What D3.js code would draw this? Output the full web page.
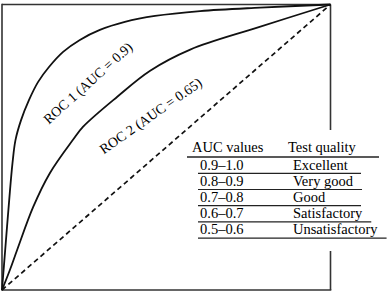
<!DOCTYPE html>
<html><head><meta charset="utf-8">
<script src="https://cdn.jsdelivr.net/npm/d3@7"></script>
<style>html,body{margin:0;padding:0;background:#fff;}svg{display:block;}</style>
</head><body>
<svg id="c" width="390" height="293"></svg>
<script>
const roc1FPR = [0,0.0097,0.0219,0.032,0.041,0.058,0.082,0.110,0.143,0.186,0.237,0.298,0.374,0.466,0.603,0.785,1];
const roc1TPR = [0,0.140,0.315,0.445,0.525,0.595,0.665,0.729,0.781,0.834,0.876,0.911,0.939,0.960,0.977,0.989,1];
const roc2FPR = [0,0.024,0.046,0.095,0.146,0.216,0.247,0.351,0.451,0.573,0.777,1];
const roc2TPR = [0,0.07,0.14,0.291,0.41,0.526,0.572,0.677,0.768,0.842,0.919,1];
const diagFPR = [0,1];
const diagTPR = [0,1];
const curveLabels = ["ROC 1 (AUC = 0.9)","ROC 2 (AUC = 0.65)"];
const tableHeader = ["AUC values","Test quality"];
const aucRanges = ["0.9\u20131.0","0.8\u20130.9","0.7\u20130.8","0.6\u20130.7","0.5\u20130.6"];
const qualities = ["Excellent","Very good","Good","Satisfactory","Unsatisfactory"];

const svg = d3.select("#c");
const x = d3.scaleLinear().domain([0,1]).range([2,330.5]);
const y = d3.scaleLinear().domain([0,1]).range([290,4.5]);
const font = "'Liberation Serif','Times New Roman',serif";

// frame
const fr = svg.append("g").attr("stroke","#333").attr("stroke-width",1.6).attr("fill","none");
fr.append("line").attr("x1",x(0)).attr("x2",x(0)).attr("y1",y(1)-0.8).attr("y2",y(0)+0.8);
fr.append("line").attr("x1",x(0)).attr("x2",x(1)).attr("y1",y(1)).attr("y2",y(1));
fr.append("line").attr("x1",x(0)).attr("x2",x(1)+0.8).attr("y1",y(0)).attr("y2",y(0));
fr.append("line").attr("x1",x(1)).attr("x2",x(1)).attr("y1",y(1)).attr("y2",130);
fr.append("line").attr("x1",x(1)).attr("x2",x(1)).attr("y1",251).attr("y2",y(0));

const line = d3.line().x(d=>x(d[0])).y(d=>y(d[1])).curve(d3.curveCatmullRom.alpha(0.5));
const lin = d3.line().x(d=>x(d[0])).y(d=>y(d[1]));

svg.append("path").attr("d", lin(d3.zip(diagFPR,diagTPR)))
  .attr("fill","none").attr("stroke","#111").attr("stroke-width",1.7).attr("stroke-dasharray","5,3.5");
svg.append("path").attr("d", line(d3.zip(roc1FPR,roc1TPR)))
  .attr("fill","none").attr("stroke","#111").attr("stroke-width",1.8);
svg.append("path").attr("d", line(d3.zip(roc2FPR,roc2TPR)))
  .attr("fill","none").attr("stroke","#111").attr("stroke-width",1.8);

// curve labels
const lab = [{fx:0.142,ty:0.579,r:-42},{fx:0.31,ty:0.475,r:-35}];
curveLabels.forEach((t,i)=>{
  svg.append("text").attr("transform",`translate(${x(lab[i].fx)},${y(lab[i].ty)}) rotate(${lab[i].r})`)
    .attr("font-family",font).attr("font-size",14).attr("fill","#000").text(t);
});

// table
const tg = svg.append("g").attr("font-family",font).attr("font-size",14.5).attr("fill","#000");
tg.append("text").attr("x",192).attr("y",151.5).text(tableHeader[0]);
tg.append("text").attr("x",288).attr("y",151.5).text(tableHeader[1]);
tg.append("line").attr("x1",187).attr("x2",379).attr("y1",157).attr("y2",157).attr("stroke","#222").attr("stroke-width",1.3);
aucRanges.forEach((r,i)=>{
  const by = 169.5 + i*16.2;
  tg.append("text").attr("x",200).attr("y",by).text(r);
  const q = tg.append("text").attr("x",293).attr("y",by).text(qualities[i]);
  const w = q.node().getComputedTextLength();
  const end = Math.max(361, 293 + w + 9);
  tg.append("line").attr("x1",198).attr("x2",end).attr("y1",by+3.8).attr("y2",by+3.8).attr("stroke","#222").attr("stroke-width",1.2);
});
</script>
</body></html>
